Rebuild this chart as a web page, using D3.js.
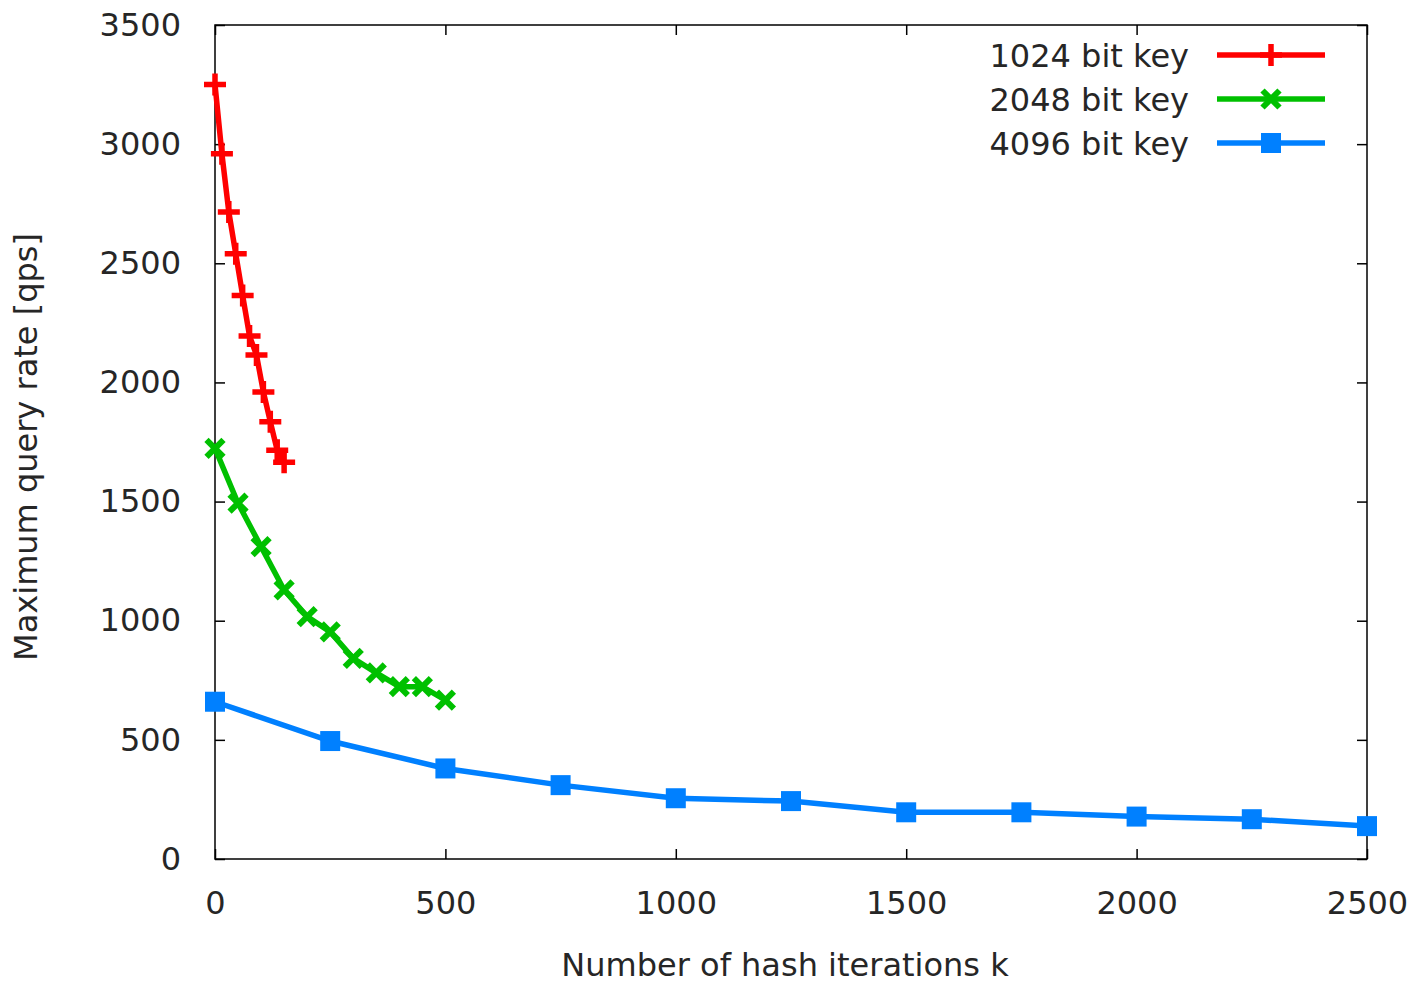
<!DOCTYPE html>
<html>
<head>
<meta charset="utf-8">
<script src="https://cdn.jsdelivr.net/npm/d3@7"></script>
<style>
  body { margin: 0; background: #fff; }
  svg { display: block; font-family: "DejaVu Sans", sans-serif; }
  .tick text { font-size: 32px; fill: #262626; }
  .label { font-size: 32px; fill: #262626; }
</style>
</head>
<body>
<script>
// data
var seriesNames = ["1024 bit key", "2048 bit key", "4096 bit key"];
var seriesColors = ["#ff0000", "#00c000", "#0080ff"];

var x1024 = [0, 15, 30, 45, 60, 75, 90, 105, 120, 135, 150];
var y1024 = [3250, 2960, 2715, 2540, 2365, 2195, 2115, 1960, 1835, 1715, 1665];

var x2048 = [0, 50, 100, 150, 200, 250, 300, 350, 400, 450, 500];
var y2048 = [1723, 1493, 1311, 1129, 1017, 953, 842, 781, 723, 723, 667];

var x4096 = [0, 250, 500, 750, 1000, 1250, 1500, 1750, 2000, 2250, 2500];
var y4096 = [660, 495, 380, 310, 255, 243, 196, 196, 178, 167, 138];

var xTicks = [0, 500, 1000, 1500, 2000, 2500];
var yTicks = [0, 500, 1000, 1500, 2000, 2500, 3000, 3500];

var W = 1416, H = 983;
var plot = {left: 215, right: 1367, top: 25, bottom: 859};

var svg = d3.select("body").append("svg")
    .attr("width", W)
    .attr("height", H);

var x = d3.scaleLinear().domain([0, 2500]).range([plot.left, plot.right]);
var y = d3.scaleLinear().domain([0, 3500]).range([plot.bottom, plot.top]);

// axes with inward ticks, mirrored on top/right
var gx = svg.append("g")
    .attr("transform", "translate(0," + plot.bottom + ")")
    .call(d3.axisBottom(x).tickValues(xTicks).tickSize(-10).tickSizeOuter(0).tickPadding(32).tickFormat(d3.format("d")));
var gy = svg.append("g")
    .attr("transform", "translate(" + plot.left + ",0)")
    .call(d3.axisLeft(y).tickValues(yTicks).tickSize(-10).tickSizeOuter(0).tickPadding(34).tickFormat(d3.format("d")));
var gxt = svg.append("g")
    .attr("transform", "translate(0," + plot.top + ")")
    .call(d3.axisTop(x).tickValues(xTicks).tickSize(-10).tickSizeOuter(0).tickFormat(""));
var gyr = svg.append("g")
    .attr("transform", "translate(" + plot.right + ",0)")
    .call(d3.axisRight(y).tickValues(yTicks).tickSize(-10).tickSizeOuter(0).tickFormat(""));

[gx, gy, gxt, gyr].forEach(function(g) {
  g.attr("font-family", null).attr("font-size", null);
  g.select(".domain").remove();
  g.selectAll(".tick line").attr("stroke", "#000").attr("stroke-width", 1.5);
});
gx.selectAll(".tick text").attr("dy", "0.71em");

svg.append("rect")
    .attr("x", plot.left)
    .attr("y", plot.top)
    .attr("width", plot.right - plot.left)
    .attr("height", plot.bottom - plot.top)
    .attr("fill", "none")
    .attr("stroke", "#000")
    .attr("stroke-width", 1.5);

// axis titles
svg.append("text")
    .attr("class", "label")
    .attr("x", (plot.left + plot.right) / 2 - 6)
    .attr("y", 976)
    .style("text-anchor", "middle")
    .text("Number of hash iterations k");

svg.append("text")
    .attr("class", "label")
    .attr("transform", "translate(37,447) rotate(-90)")
    .style("text-anchor", "middle")
    .text("Maximum query rate [qps]");

// markers
function drawMarker(g, kind, cx, cy, color) {
  if (kind === 0) {
    g.append("path")
        .attr("d", "M" + (cx - 11) + "," + cy + "H" + (cx + 11) + "M" + cx + "," + (cy - 11) + "V" + (cy + 11))
        .attr("stroke", color).attr("stroke-width", 5.5).attr("fill", "none");
  } else if (kind === 1) {
    g.append("path")
        .attr("d", "M" + (cx - 8.5) + "," + (cy - 8.5) + "L" + (cx + 8.5) + "," + (cy + 8.5) + "M" + (cx - 8.5) + "," + (cy + 8.5) + "L" + (cx + 8.5) + "," + (cy - 8.5))
        .attr("stroke", color).attr("stroke-width", 6).attr("fill", "none");
  } else {
    g.append("rect")
        .attr("x", cx - 10).attr("y", cy - 10)
        .attr("width", 20).attr("height", 20)
        .attr("fill", color);
  }
}

var line = d3.line()
    .x(function(d) { return x(d[0]); })
    .y(function(d) { return y(d[1]); });

var allX = [x1024, x2048, x4096];
var allY = [y1024, y2048, y4096];

allX.forEach(function(xs, i) {
  var data = xs.map(function(v, j) { return [v, allY[i][j]]; });
  var g = svg.append("g");
  g.append("path")
      .datum(data)
      .attr("d", line)
      .attr("fill", "none")
      .attr("stroke", seriesColors[i])
      .attr("stroke-width", 5.5);
  data.forEach(function(d) {
    drawMarker(g, i, x(d[0]), y(d[1]), seriesColors[i]);
  });
});

// legend
var legendY = [55, 99, 143];
seriesNames.forEach(function(name, i) {
  var g = svg.append("g");
  g.append("text")
      .attr("class", "label")
      .attr("x", 1189)
      .attr("y", legendY[i] + 12)
      .style("text-anchor", "end")
      .text(name);
  g.append("line")
      .attr("x1", 1217).attr("x2", 1325)
      .attr("y1", legendY[i]).attr("y2", legendY[i])
      .attr("stroke", seriesColors[i])
      .attr("stroke-width", 5.5);
  drawMarker(g, i, 1271, legendY[i], seriesColors[i]);
});
</script>
</body>
</html>
